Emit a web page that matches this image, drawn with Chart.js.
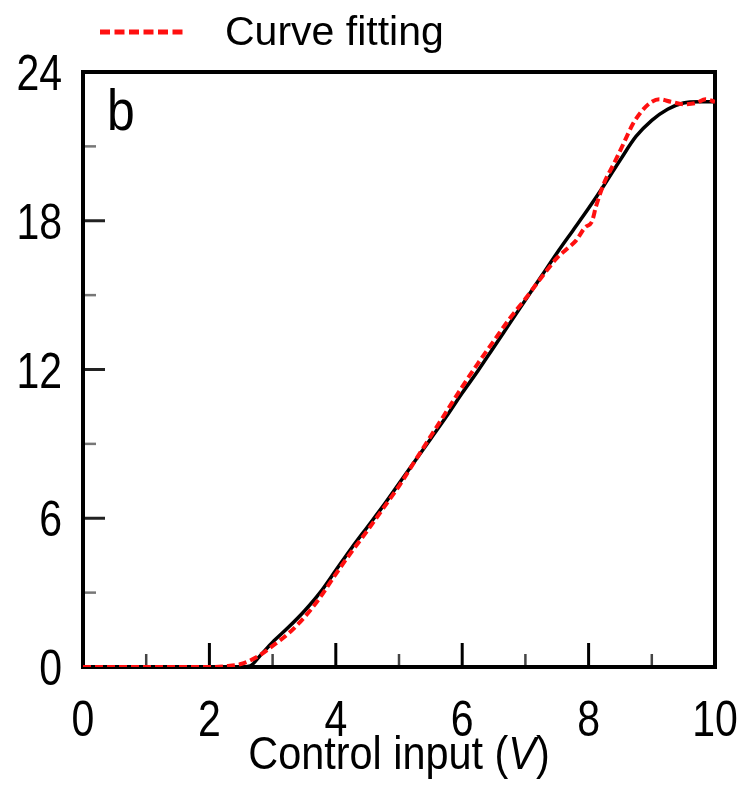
<!DOCTYPE html>
<html>
<head>
<meta charset="utf-8">
<script src="https://cdn.jsdelivr.net/npm/chart.js@4.4.0/dist/chart.umd.min.js"></script>
<style>
  html, body { margin: 0; padding: 0; background: #ffffff; }
  canvas { display: block; }
</style>
</head>
<body>
<canvas id="chart" width="746" height="798"></canvas>
<script>
// Measured response vs. control input
const measuredVolts = [0, 0.5, 1, 1.5, 2, 2.5, 2.65, 2.8, 3, 3.25, 3.5, 3.75, 4, 4.25, 4.5, 4.75,
  5, 5.25, 5.5, 5.75, 6, 6.25, 6.5, 6.75, 7, 7.25, 7.5, 7.75, 8, 8.25, 8.5, 8.75, 9, 9.25, 9.5, 9.75, 10];
const measuredValues = [0, 0, 0, 0, 0, 0, 0.05, 0.45, 1.0, 1.6, 2.25, 3.0, 3.9, 4.8, 5.65, 6.5,
  7.4, 8.3, 9.2, 10.1, 11.05, 11.95, 12.9, 13.85, 14.8, 15.75, 16.7, 17.6, 18.5, 19.45, 20.45, 21.4, 22.05, 22.5, 22.75, 22.8, 22.8];

// Fitted curve
const fitVolts = [0, 0.5, 1, 1.5, 2, 2.25, 2.5, 2.75, 3, 3.25, 3.5, 3.75, 4, 4.25, 4.5, 4.75,
  5, 5.25, 5.5, 5.75, 6, 6.25, 6.5, 6.75, 7, 7.25, 7.5, 7.65, 7.8, 7.95, 8.05, 8.12, 8.25, 8.4,
  8.55, 8.7, 8.85, 9.0, 9.12, 9.3, 9.5, 9.7, 9.85, 10];
const fitValues = [0, 0, 0, 0, 0, 0.03, 0.12, 0.4, 0.85, 1.35, 2.0, 2.8, 3.75, 4.65, 5.5, 6.4,
  7.3, 8.3, 9.3, 10.3, 11.3, 12.25, 13.15, 14.05, 14.85, 15.7, 16.5, 16.85, 17.2, 17.75, 17.95, 18.6, 19.55, 20.3,
  21.1, 21.9, 22.45, 22.8, 22.9, 22.8, 22.7, 22.75, 22.9, 22.8];

const xMajorTicks = [0, 2, 4, 6, 8, 10];
const xMinorTicks = [1, 3, 5, 7, 9];
const yMajorTicks = [0, 6, 12, 18, 24];
const yMinorTicks = [3, 9, 15, 21];

const legendText = 'Curve fitting';
const panelLetter = 'b';
const axisTitleParts = ['Control input (', 'V', ')'];

const FONT = "'Liberation Sans', Arial, sans-serif";

const toPoints = (xs, ys) => xs.map((x, i) => ({ x: x, y: ys[i] }));

// Text drawn with a horizontal squeeze (condensed look)
function squeezedText(ctx, text, x, y, font, sx, align) {
  ctx.save();
  ctx.font = font;
  ctx.textAlign = align;
  ctx.textBaseline = 'alphabetic';
  ctx.translate(x, y);
  ctx.scale(sx, 1);
  ctx.fillText(text, 0, 0);
  ctx.restore();
}

// Frame and inward tick marks beneath the curves; labels, legend and titles on top
const framePlugin = {
  id: 'frame',
  beforeDatasetsDraw(chart) {
    const { ctx, chartArea: a, scales: { x, y } } = chart;
    ctx.save();
    ctx.lineCap = 'butt';
    const tick = (list, len, width, color, horiz) => {
      ctx.strokeStyle = color;
      ctx.lineWidth = width;
      list.forEach(v => {
        ctx.beginPath();
        if (horiz) {
          const px = x.getPixelForValue(v);
          ctx.moveTo(px, a.bottom);
          ctx.lineTo(px, a.bottom - len);
        } else {
          const py = y.getPixelForValue(v);
          ctx.moveTo(a.left, py);
          ctx.lineTo(a.left + len, py);
        }
        ctx.stroke();
      });
    };
    tick(xMajorTicks, 24, 3, '#000', true);
    tick(xMinorTicks, 13, 2.5, '#444', true);
    tick(yMajorTicks, 22, 3, '#222', false);
    tick(yMinorTicks, 13, 2.5, '#777', false);
    ctx.strokeStyle = '#000';
    ctx.lineWidth = 4;
    ctx.strokeRect(a.left, a.top, a.right - a.left, a.bottom - a.top);
    ctx.restore();
  },
  afterDraw(chart) {
    const { ctx, chartArea: a, scales: { x, y } } = chart;
    const fit = chart.data.datasets[0];
    ctx.save();
    ctx.fillStyle = '#000';

    // tick labels
    const tickFont = '50px ' + FONT;
    x.ticks.forEach(t => squeezedText(ctx, String(t.value), x.getPixelForValue(t.value), a.bottom + 69, tickFont, 0.82, 'center'));
    y.ticks.forEach(t => squeezedText(ctx, String(t.value), a.left - 21, y.getPixelForValue(t.value) + 18, tickFont, 0.82, 'right'));

    // legend entry
    ctx.strokeStyle = fit.borderColor;
    ctx.lineWidth = 5;
    ctx.setLineDash([10, 4.5]);
    ctx.beginPath();
    ctx.moveTo(100, 32);
    ctx.lineTo(187, 32);
    ctx.stroke();
    ctx.setLineDash([]);
    ctx.textBaseline = 'alphabetic';
    ctx.textAlign = 'left';
    ctx.font = '41px ' + FONT;
    ctx.fillText(legendText, 225, 45);

    // panel letter
    squeezedText(ctx, panelLetter, a.left + 24, a.top + 58, '58px ' + FONT, 0.86, 'left');

    // x-axis title with italic unit symbol
    const size = 46, sx = 0.9;
    const fonts = [size + 'px ' + FONT, 'italic ' + size + 'px ' + FONT, size + 'px ' + FONT];
    const widths = axisTitleParts.map((t, i) => { ctx.font = fonts[i]; return ctx.measureText(t).width * sx; });
    let cx = (a.left + a.right) / 2 - widths.reduce((s, w) => s + w, 0) / 2;
    axisTitleParts.forEach((t, i) => {
      squeezedText(ctx, t, cx, 769, fonts[i], sx, 'left');
      cx += widths[i];
    });
    ctx.restore();
  }
};

new Chart(document.getElementById('chart'), {
  type: 'scatter',
  data: {
    datasets: [
      {
        label: legendText,
        data: toPoints(fitVolts, fitValues),
        showLine: true,
        borderColor: '#ff1010',
        borderWidth: 4,
        borderDash: [8, 4],
        pointRadius: 0,
        cubicInterpolationMode: 'monotone',
        order: 0
      },
      {
        label: 'Measured',
        data: toPoints(measuredVolts, measuredValues),
        showLine: true,
        borderColor: '#000000',
        borderWidth: 3.5,
        pointRadius: 0,
        cubicInterpolationMode: 'monotone',
        order: 1
      }
    ]
  },
  options: {
    responsive: false,
    animation: false,
    devicePixelRatio: 1,
    layout: { padding: { top: 72, right: 31, bottom: 0, left: 0 } },
    plugins: { legend: { display: false }, tooltip: { enabled: false } },
    scales: {
      x: {
        type: 'linear',
        min: 0, max: 10,
        grid: { display: false, drawTicks: false },
        border: { display: false },
        afterFit: s => { s.height = 131; s.paddingLeft = 0; s.paddingRight = 0; },
        afterBuildTicks: s => { s.ticks = xMajorTicks.map(v => ({ value: v })); },
        ticks: { display: false }
      },
      y: {
        type: 'linear',
        min: 0, max: 24,
        grid: { display: false, drawTicks: false },
        border: { display: false },
        afterFit: s => { s.width = 83; s.paddingTop = 0; s.paddingBottom = 0; },
        afterBuildTicks: s => { s.ticks = yMajorTicks.map(v => ({ value: v })); },
        ticks: { display: false }
      }
    }
  },
  plugins: [framePlugin]
});
</script>
</body>
</html>
